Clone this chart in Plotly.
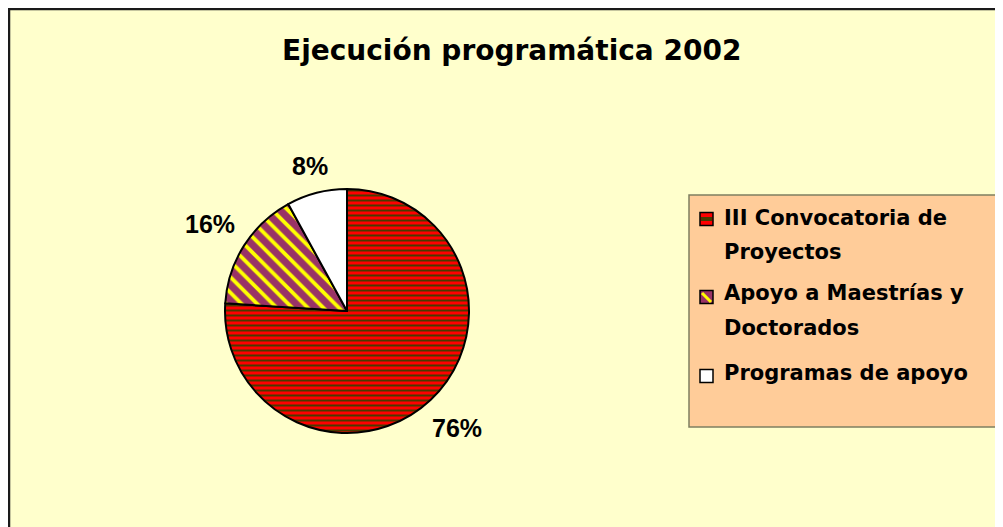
import math
import plotly.graph_objects as go

# data
categories = ["III Convocatoria de Proyectos", "Apoyo a Maestrías y Doctorados", "Programas de apoyo"]
values = [76, 16, 8]
legend_lines = [["III Convocatoria de", "Proyectos"],
                ["Apoyo a Maestrías y", "Doctorados"],
                ["Programas de apoyo"]]
title_text = "Ejecución programática 2002"

# page is offset by the 8px body margin
OFF = 8
W, H = 1003 - OFF, 527 - OFF


def px(x):
    return (x - OFF) / W


def py(y):
    return 1 - (y - OFF) / H


# pie geometry (page pixels)
cx, cy, r = 347, 311, 122

fig = go.Figure()
fig.add_trace(go.Pie(
    labels=categories,
    values=values,
    sort=False,
    direction="clockwise",
    rotation=0,
    textinfo="none",
    marker=dict(
        colors=["#FF0000", "#993366", "#FFFFFF"],
        line=dict(color="black", width=2),
        pattern=dict(
            shape=["-", "\\", ""],
            bgcolor=["#FF0000", "#993366", "#FFFFFF"],
            fgcolor=["#4a3a00", "#FFFF00", "#FFFFFF"],
            size=[5, 11, 8],
            solidity=[0.4, 0.35, 0.3],
            fillmode="replace",
        ),
    ),
    domain=dict(x=[px(cx - r), px(cx + r)], y=[py(cy + r), py(cy - r)]),
    showlegend=False,
    hoverinfo="label+percent",
))

# percentage labels placed outside each slice, Excel style
total = sum(values)
annotations = []
cum = 0
lab_size = 25
for v in values:
    mid = (cum + v / 2) / total * 2 * math.pi
    cum += v
    txt = f"{round(v / total * 100)}%"
    w = lab_size * (0.556 * (len(txt) - 1) + 0.889)
    h = lab_size * 0.8
    dx, dy = math.sin(mid), -math.cos(mid)
    d = r + 14 + w / 2 * abs(dx) + h / 2 * abs(dy)
    annotations.append(dict(text=txt, xref="paper", yref="paper",
                            x=px(cx + d * dx), y=py(cy + d * dy),
                            xanchor="center", yanchor="middle", showarrow=False,
                            font=dict(family="Arial, Liberation Sans", size=lab_size,
                                      color="black", weight="bold")))

shapes = [
    # chart area
    dict(type="rect", xref="paper", yref="paper", x0=px(9), y0=py(540), x1=px(1020), y1=py(9),
         fillcolor="#FFFFCC", line=dict(color="#1a1a1a", width=2.5), layer="below"),
    # legend box
    dict(type="rect", xref="paper", yref="paper", x0=px(689), y0=py(427), x1=px(1020), y1=py(195),
         fillcolor="#FFCC99", line=dict(color="#7f7f60", width=1.5), layer="below"),
]

# legend markers
marker_y = [219, 297, 376]
mk_fill = ["#FF0000", "#993366", "#FFFFFF"]
for yc, fc in zip(marker_y, mk_fill):
    shapes.append(dict(type="rect", xref="paper", yref="paper",
                       x0=px(700), x1=px(713), y0=py(yc + 6.5), y1=py(yc - 6.5),
                       fillcolor=fc, line=dict(color="black", width=1.5)))
shapes.append(dict(type="rect", xref="paper", yref="paper",
                   x0=px(701), x1=px(712), y0=py(marker_y[0] + 2), y1=py(marker_y[0] - 2),
                   fillcolor="#4a3a00", line=dict(width=0)))
shapes.append(dict(type="line", xref="paper", yref="paper",
                   x0=px(702), y0=py(marker_y[1] - 4), x1=px(711), y1=py(marker_y[1] + 5),
                   line=dict(color="#FFFF00", width=3)))

annotations.append(dict(text=title_text, xref="paper", yref="paper", x=px(512), y=py(51),
                        xanchor="center", yanchor="middle", showarrow=False,
                        font=dict(family="DejaVu Sans", size=28, color="black", weight="bold")))

line_y = [[218, 252], [293, 328], [373]]
for lines, ys in zip(legend_lines, line_y):
    for t, yy in zip(lines, ys):
        annotations.append(dict(text=t, xref="paper", yref="paper", x=px(722), y=py(yy),
                                xanchor="left", yanchor="middle", showarrow=False,
                                font=dict(family="DejaVu Sans", size=21, color="black", weight="bold")))

fig.update_layout(
    width=W, height=H,
    margin=dict(l=0, r=0, t=0, b=0),
    paper_bgcolor="white",
    plot_bgcolor="white",
    shapes=shapes,
    annotations=annotations,
    showlegend=False,
)

fig.write_html("out.html")
